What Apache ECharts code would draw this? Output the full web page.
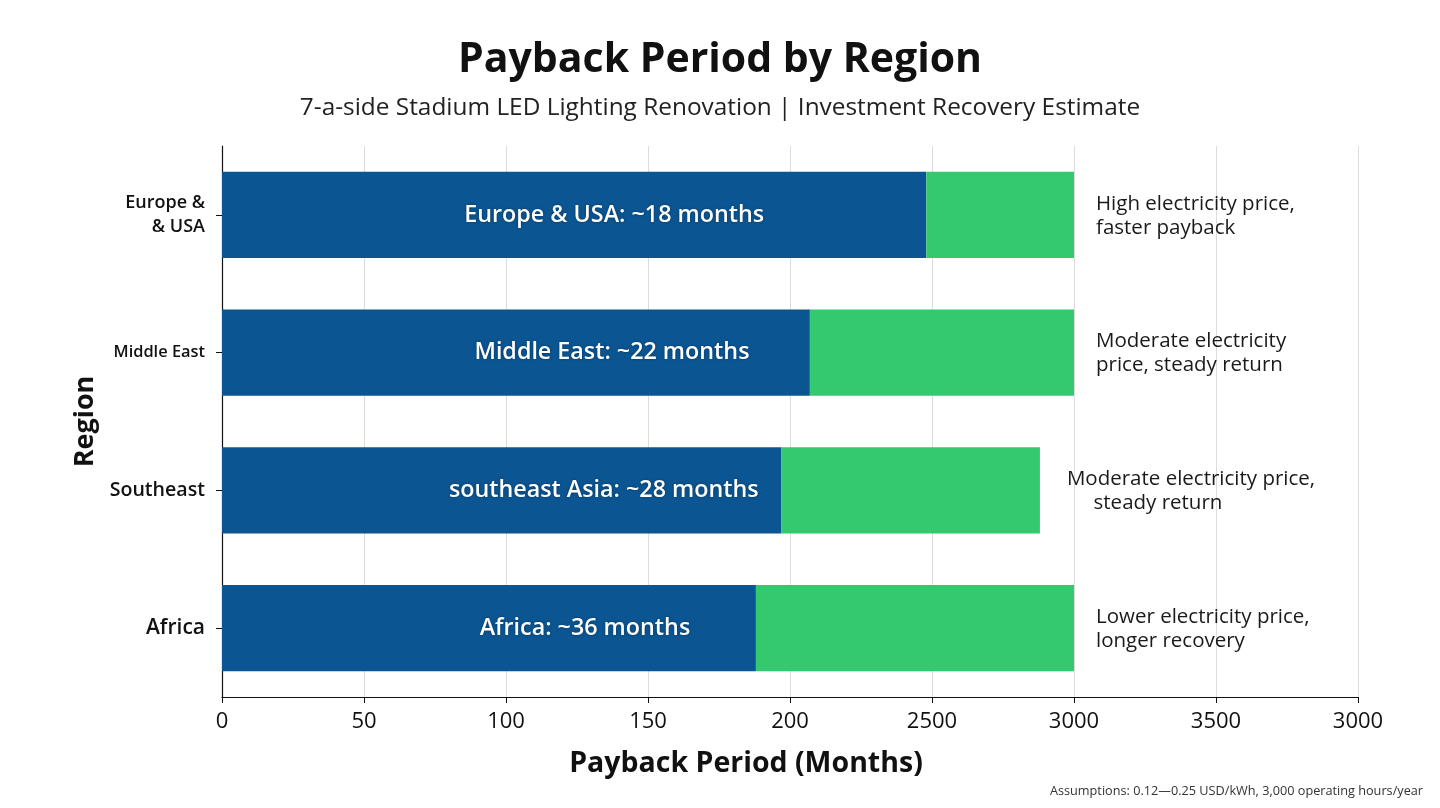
<!DOCTYPE html>
<html>
<head>
<meta charset="utf-8">
<script src="https://cdn.jsdelivr.net/npm/echarts@6/dist/echarts.min.js"></script>
<style>
html,body{margin:0;padding:0;background:#fff;}
#chart{width:1440px;height:808px;}
</style>
</head>
<body>
<div id="chart"></div>
<script>
// ---- data ----
const categories = ['Europe &\n& USA', 'Middle East', 'Southeast', 'Africa'];
const blueValues = [248, 207, 197, 188];
const greenValues = [52, 93, 91, 112];
const barLabels = ['Europe & USA: ~18 months', 'Middle East: ~22 months', 'southeast Asia: ~28 months', 'Africa: ~36 months'];
const notes = ['High electricity price,\nfaster payback', 'Moderate electricity\nprice, steady return', 'Moderate electricity price,\n     steady return', 'Lower electricity price,\nlonger recovery'];
const tickLabels = ['0', '50', '100', '150', '200', '2500', '3000', '3500', '3000'];

// ---- styles (not data) ----
const labelOffsets = [40, 96, 102, 96];
const catFontSizes = [18, 16.4, 19.6, 21];
const noteDist = [22, 22, 27, 22];
const FONT = '"Open Sans", "Noto Sans", sans-serif';

const chart = echarts.init(document.getElementById('chart'));

const richCat = {};
catFontSizes.forEach((s, i) => { richCat['c' + i] = {fontSize: s, fontWeight: 600, color: '#111', fontFamily: FONT, lineHeight: s * 1.35, align: 'right'}; });

const option = {
  backgroundColor: '#ffffff',
  animation: false,
  title: [
    {text: 'Payback Period by Region', left: 'center', top: 35,
     textStyle: {fontFamily: FONT, fontSize: 41, fontWeight: 'bold', color: '#111'}},
    {text: '7-a-side Stadium LED Lighting Renovation | Investment Recovery Estimate', left: 'center', top: 91,
     textStyle: {fontFamily: FONT, fontSize: 24.4, fontWeight: 'normal', color: '#222'}},
    {text: 'Payback Period (Months)', left: 741, top: 744, textAlign: 'center',
     textStyle: {fontFamily: FONT, fontSize: 28.5, fontWeight: 'bold', color: '#111'}},
    {text: 'Assumptions: 0.12\u20140.25 USD/kWh, 3,000 operating hours/year', right: 12, top: 780,
     textStyle: {fontFamily: FONT, fontSize: 12.7, fontWeight: 'normal', color: '#333'}}
  ],
  grid: {left: 222, right: 82, top: 146, bottom: 111, containLabel: false},
  xAxis: {
    type: 'value', min: 0, max: 400, interval: 50,
    axisLine: {show: true, lineStyle: {color: '#111', width: 1.2}},
    axisTick: {show: true, length: 6, lineStyle: {color: '#111'}},
    axisLabel: {
      fontFamily: FONT, fontSize: 22, color: '#111', margin: 14,
      formatter: (v) => tickLabels[Math.round(v / 50)] || ''
    },
    splitLine: {show: true, lineStyle: {color: '#dcdcdc', width: 1}}
  },
  yAxis: {
    type: 'category', inverse: true, data: categories,
    name: 'Region', nameLocation: 'middle', nameGap: 120,
    nameTextStyle: {fontFamily: FONT, fontSize: 27, fontWeight: 'bold', color: '#111'},
    axisLine: {show: true, lineStyle: {color: '#111', width: 1.2}},
    axisTick: {show: true, alignWithLabel: true, length: 6, lineStyle: {color: '#111'}},
    axisLabel: {
      margin: 17,
      formatter: (v, i) => v.split('\n').map(l => '{c' + i + '|' + l + '}').join('\n'),
      rich: richCat
    },
    splitLine: {show: false}
  },
  series: [
    {
      type: 'bar', stack: 'total', barCategoryGap: '37.5%',
      itemStyle: {color: '#0b5592'},
      data: blueValues.map((v, i) => ({
        value: v,
        label: {show: true, position: 'inside', offset: [labelOffsets[i], 0],
          formatter: barLabels[i], color: '#fff', fontFamily: FONT, fontSize: 23.3, fontWeight: 600,
          textShadowColor: 'rgba(0,0,0,0.35)', textShadowBlur: 3}
      }))
    },
    {
      type: 'bar', stack: 'total',
      itemStyle: {color: '#34c96f'},
      data: greenValues.map((v, i) => ({
        value: v,
        label: {show: true, position: 'right', distance: noteDist[i], offset: [0, 1],
          formatter: notes[i], color: '#1a1a1a', fontFamily: FONT, fontSize: 20.5, lineHeight: 24, align: 'left'}
      }))
    }
  ]
};
chart.setOption(option);
</script>
</body>
</html>
